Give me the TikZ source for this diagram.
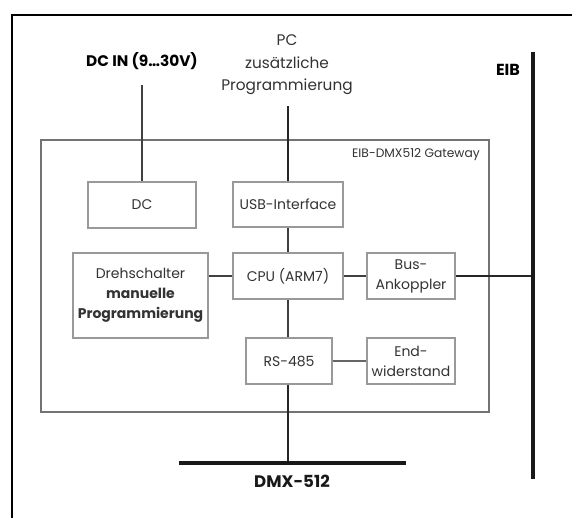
\documentclass[tikz,border=0pt]{standalone}
\usepackage{fontspec}
\setmainfont{Poppins}
\begin{document}
\begin{tikzpicture}[x=0.75pt,y=-0.75pt,
  txt/.style={text=black!80, font=\fontsize{10.5}{15}\selectfont, align=center, inner sep=0pt},
  blk/.style={draw=black!40, line width=0.8pt, fill=white, minimum width=#1*0.75pt, inner sep=0pt},
  conn/.style={draw=black!75, line width=1pt},
  thick2/.style={draw=black!85, line width=1.6pt}]
\useasboundingbox (0,0) rectangle (572,518);
% outer frame (cropped)
\draw[line width=1.9pt] (12,518) -- (12,15) -- (572,15);
% gateway
\draw[draw=black!55, line width=0.8pt] (41,140) rectangle (489,412);
\node[txt, font=\fontsize{9.2}{11}\selectfont, anchor=east] (gwlabel) at (480,155) {EIB-DMX512 Gateway};
% blocks
\node[blk=108, minimum height=46*0.75pt, txt] (dc) at (142,205) {DC};
\node[blk=110, minimum height=45*0.75pt, txt] (usb) at (288,204.5) {USB-Interface};
\node[blk=135, minimum height=85*0.75pt, txt] (dreh) at (140.5,295.5) {Drehschalter\\\textbf{manuelle}\\\textbf{Programmierung}};
\node[blk=110, minimum height=46*0.75pt, txt] (cpu) at (288,276) {CPU (ARM7)};
\node[blk=88, minimum height=46*0.75pt, txt] (bus) at (411,276) {Bus-\\Ankoppler};
\node[blk=86, minimum height=46*0.75pt, txt] (rs) at (289,361) {RS-485};
\node[blk=88, minimum height=46*0.75pt, txt] (end) at (411,361) {End-\\widerstand};
% external labels
\node[txt, text=black, font=\bfseries\fontsize{11.5}{13}\selectfont] (dcin) at (142,61) {DC IN (9…30V)};
\node[txt, font=\fontsize{11.5}{16.8}\selectfont] (pc) at (287,65) {PC\\zusätzliche\\Programmierung};
\node[txt, text=black, font=\bfseries\fontsize{12}{14}\selectfont] (eib) at (508,70) {EIB};
\node[txt, text=black!90, font=\bfseries\fontsize{12.5}{14}\selectfont] (dmx) at (292,481) {DMX-512};
% coordinates
\coordinate (dctop) at (142,85);
\coordinate (pctop) at (288,106);
\coordinate (eibtop) at (533,52);
\coordinate (eibbot) at (533,479);
\coordinate (dmxl) at (179,463);
\coordinate (dmxr) at (406,463);
% connectors
\draw[conn, line width=1.3pt] (dctop) -- (dc.north);
\draw[thick2] (pctop) -- (usb.north);
\draw[conn] (usb.south) -- (cpu.north);
\draw[conn] (cpu.west) -- (cpu.west -| dreh.east);
\draw[conn] (cpu.east) -- (bus.west);
\draw[conn] (rs.north -| cpu.south) -- (cpu.south);
\draw[conn, draw=black!60] (rs.east) -- (end.west);
\draw[thick2] (rs.south -| cpu.south) -- (dmxl -| cpu.south);
\draw[thick2] (bus.east) -- (bus.east -| eibtop);
\draw[line width=2.4pt, draw=black!90] (eibtop) -- (eibbot);
\draw[line width=3pt, draw=black!90] (dmxl) -- (dmxr);
\end{tikzpicture}
\end{document}
